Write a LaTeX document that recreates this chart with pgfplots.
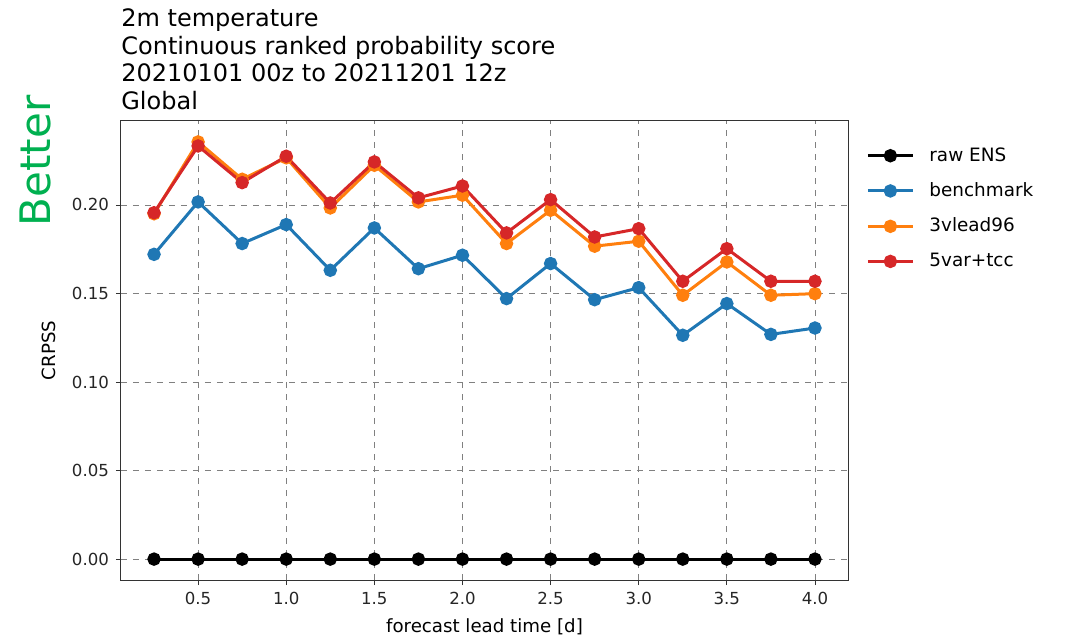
\documentclass[border=0pt]{standalone}
\usepackage{pgfplots}
\pgfplotsset{compat=1.18}
\usepackage{fontspec}
\setmainfont{DejaVu Sans}
\definecolor{tabblue}{HTML}{1F77B4}
\definecolor{taborange}{HTML}{FF7F0E}
\definecolor{tabred}{HTML}{D62728}
\definecolor{better}{HTML}{00B050}
\begin{document}
\begin{tikzpicture}
\useasboundingbox (-60.5pt,-29pt) rectangle (482.5pt,290pt);
\begin{axis}[
  at={(0,0)}, anchor=south west,
  scale only axis, width=363.5pt, height=229.5pt,
  xmin=0.0625, xmax=4.1875, ymin=-0.0118, ymax=0.2474,
  xtick={0.5,1.0,...,4.0}, ytick={0,0.05,0.10,0.15,0.20},
  xticklabel style={/pgf/number format/.cd,fixed,fixed zerofill,precision=1},
  yticklabel style={/pgf/number format/.cd,fixed,fixed zerofill,precision=2},
  /pgf/number format/assume math mode=true,
  ticklabel style={font=\fontsize{8.3}{10}\selectfont, text=black!85},
  label style={font=\fontsize{9.1}{11}\selectfont},
  tick align=outside, tick pos=left,
  major tick length=2.5pt,
  tick style={black!80, line width=0.4pt},
  axis line style={black!80, line width=0.5pt},
  grid=major, major grid style={dashed, gray, line width=0.4pt},
  xlabel={forecast lead time [d]}, ylabel={CRPSS},
  xlabel style={yshift=0pt}, ylabel style={yshift=1pt},
  legend style={at={(1,1)}, anchor=north west, xshift=6pt, yshift=-9pt, draw=none, fill=none,
    font=\fontsize{9.2}{10}\selectfont, row sep=5.2pt, cells={anchor=west}},
  legend cell align=left,
  legend image code/.code={\draw[#1] (0pt,0pt) -- (22.5pt,0pt); \draw[#1, only marks] plot coordinates {(11.25pt,0pt)}; \path (28pt,0pt);},
  every axis plot/.append style={line width=1.5pt, mark=*, mark size=2.6pt},
]
\addplot[black] coordinates {(0.25,0)(0.5,0)(0.75,0)(1.0,0)(1.25,0)(1.5,0)(1.75,0)(2.0,0)(2.25,0)(2.5,0)(2.75,0)(3.0,0)(3.25,0)(3.5,0)(3.75,0)(4.0,0)};
\addlegendentry{raw ENS}
\addplot[tabblue] coordinates {(0.25,0.1721)(0.5,0.2017)(0.75,0.1782)(1.0,0.1889)(1.25,0.1631)(1.5,0.1870)(1.75,0.1640)(2.0,0.1716)(2.25,0.1471)(2.5,0.1669)(2.75,0.1465)(3.0,0.1533)(3.25,0.1264)(3.5,0.1443)(3.75,0.1269)(4.0,0.1305)};
\addlegendentry{benchmark}
\addplot[taborange] coordinates {(0.25,0.1950)(0.5,0.2356)(0.75,0.2145)(1.0,0.2266)(1.25,0.1983)(1.5,0.2224)(1.75,0.2017)(2.0,0.2055)(2.25,0.1782)(2.5,0.1970)(2.75,0.1767)(3.0,0.1795)(3.25,0.1490)(3.5,0.1678)(3.75,0.1490)(4.0,0.1499)};
\addlegendentry{3vlead96}
\addplot[tabred] coordinates {(0.25,0.1956)(0.5,0.2333)(0.75,0.2126)(1.0,0.2275)(1.25,0.2011)(1.5,0.2243)(1.75,0.2040)(2.0,0.2107)(2.25,0.1842)(2.5,0.2030)(2.75,0.1819)(3.0,0.1866)(3.25,0.1569)(3.5,0.1753)(3.75,0.1569)(4.0,0.1569)};
\addlegendentry{5var+tcc}
\end{axis}
\node[anchor=south west, align=left, inner sep=0pt, font=\fontsize{12}{13.8}\selectfont] at (0pt,235pt)
  {2m temperature\\Continuous ranked probability score\\20210101 00z to 20211201 12z\\Global};
\node[rotate=90, text=better, font=\fontsize{21}{24}\selectfont, inner sep=0pt] at (-43pt,209.5pt) {Better};
\end{tikzpicture}
\end{document}
